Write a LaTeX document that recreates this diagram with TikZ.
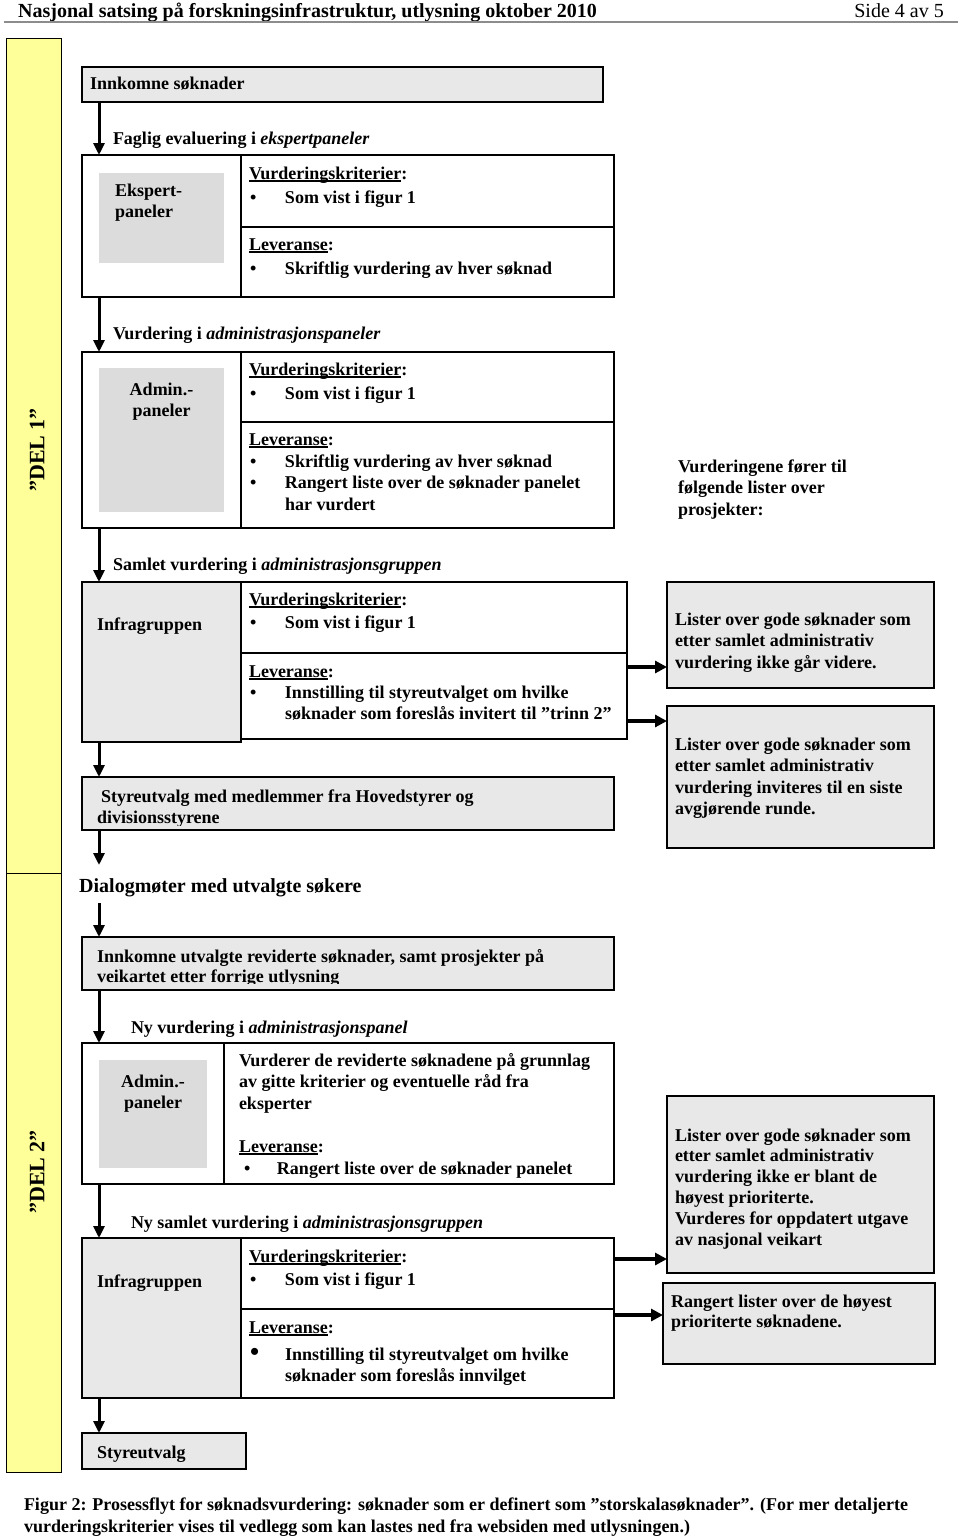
\documentclass[tikz,border=0pt]{standalone}
\usepackage{fontspec}
\setmainfont{Liberation Serif}
\usetikzlibrary{arrows.meta}
\definecolor{bandyellow}{HTML}{FFFF99}
\definecolor{boxgray}{HTML}{E8E8E8}
\definecolor{panelgray}{HTML}{DCDCDC}
\newcommand\bodyf{\fontsize{18}{21.5}\selectfont\bfseries}
\newcommand\linesL[1]{\begin{tabular}[t]{@{}l@{}}#1\end{tabular}}
\newcommand\linesC[1]{\begin{tabular}[t]{@{}c@{}}#1\end{tabular}}
\newcommand\bul{\makebox[35pt][l]{•}}
\newcommand\bigbul{\makebox[35pt][l]{\fontsize{26}{26}\selectfont •}}
\newcommand\ind{\hspace*{35pt}}
\newsavebox\undlbox
\newcommand\undl[1]{\sbox\undlbox{#1}\rlap{\rule[-2.6pt]{\wd\undlbox}{1.3pt}}\usebox\undlbox}
\begin{document}
\begin{tikzpicture}[x=1pt,y=-1pt,
  frame/.style={draw=black, line width=2pt, inner sep=0pt, outer sep=0pt, anchor=north west},
  graybox/.style={frame, fill=boxgray},
  panel/.style={fill=panelgray, inner sep=0pt, outer sep=0pt, anchor=north west},
  bandbox/.style={draw=black, line width=1pt, fill=bandyellow, inner sep=0pt, outer sep=0pt, anchor=north west},
  txt/.style={anchor=base west, inner sep=0pt, outer sep=0pt, font=\bodyf},
  ctxt/.style={anchor=base, inner sep=0pt, outer sep=0pt, font=\bodyf},
  flow/.style={line width=3pt, -{Triangle[length=12pt,width=11pt]}},
  side/.style={line width=4pt, -{Triangle[length=12pt,width=12pt]}},
  dellab/.style={rotate=90, inner sep=0pt, font=\fontsize{22}{26}\selectfont\bfseries}
]
\useasboundingbox (0,0) rectangle (960,1540);
% header
\node[anchor=base west, inner sep=0pt, font=\fontsize{20}{24}\selectfont\bfseries] (title) at (18,17) {Nasjonal satsing på forskningsinfrastruktur, utlysning oktober 2010};
\node[anchor=base east, inner sep=0pt, font=\fontsize{20}{24}\selectfont] (page) at (944,17) {Side 4 av 5};
\draw[black!45, line width=1.5pt] (4,22) -- (958,22);

% yellow band
\node[bandbox, minimum width=55, minimum height=835] (del1) at (6,38) {};
\node[bandbox, minimum width=55, minimum height=599] (del2) at (6,873) {};
\node[dellab] (d1lab) at (37,450) {”DEL 1”};
\node[dellab] (d2lab) at (37,1172) {”DEL 2”};

% Innkomne
\node[graybox, minimum width=521, minimum height=35] (inn) at (82,67) {};
\node[txt] (inntxt) at (90,89) {Innkomne søknader};
\node[txt] (lab1) at (113,144) {Faglig evaluering i \textit{ekspertpaneler}};

% Box 2 expert panels
\node[frame, minimum width=159, minimum height=142] (eksL) at (82,155) {};
\node[frame, minimum width=373, minimum height=72] (eksRa) at (241,155) {};
\node[frame, minimum width=373, minimum height=70] (eksRb) at (241,227) {};
\node[panel, minimum width=125, minimum height=90] (eksP) at (99,173) {};
\node[txt] (eksPt) at (115,196) {\linesL{Ekspert-\\paneler}};
\node[txt] (eksK) at (249,179) {\undl{Vurderingskriterier}:};
\node[txt] (eksKi) at (250,203) {\bul Som vist i figur 1};
\node[txt] (eksLv) at (249,250) {\undl{Leveranse}:};
\node[txt] (eksLi) at (250,274) {\bul Skriftlig vurdering av hver søknad};
\draw[flow] ([xshift=17pt]inn.south west) -- ([xshift=17pt]eksL.north west);

% Box 3 admin panels
\node[txt] (lab2) at (113,339) {Vurdering i \textit{administrasjonspaneler}};
\node[frame, minimum width=159, minimum height=176] (admL) at (82,352) {};
\node[frame, minimum width=373, minimum height=70] (admRa) at (241,352) {};
\node[frame, minimum width=373, minimum height=106] (admRb) at (241,422) {};
\node[panel, minimum width=125, minimum height=144] (admP) at (99,368) {};
\node[ctxt] (admPt) at (161.5,395) {\linesC{Admin.-\\paneler}};
\node[txt] (admK) at (249,375) {\undl{Vurderingskriterier}:};
\node[txt] (admKi) at (250,399) {\bul Som vist i figur 1};
\node[txt] (admLv) at (249,445) {\undl{Leveranse}:};
\node[txt] (admLi) at (250,467) {\linesL{\bul Skriftlig vurdering av hver søknad\\ \bul Rangert liste over de søknader panelet\\ \ind har vurdert}};
\draw[flow] ([xshift=17pt]eksL.south west) -- ([xshift=17pt]admL.north west);

\node[txt] (vurd) at (678,472) {\linesL{Vurderingene fører til\\følgende lister over\\prosjekter:}};

% Box 4 Infragruppen
\node[txt] (lab3) at (113,570) {Samlet vurdering i \textit{administrasjonsgruppen}};
\node[frame, minimum width=386, minimum height=71] (infRa) at (241,582) {};
\node[frame, minimum width=386, minimum height=86] (infRb) at (241,653) {};
\node[graybox, minimum width=159, minimum height=160] (infL) at (82,582) {};
\node[txt] (infT) at (97,630) {Infragruppen};
\node[txt] (infK) at (249,605) {\undl{Vurderingskriterier}:};
\node[txt] (infKi) at (250,628) {\bul Som vist i figur 1};
\node[txt] (infLv) at (249,677) {\undl{Leveranse}:};
\node[txt] (infLi) at (250,698) {\linesL{\bul Innstilling til styreutvalget om hvilke\\ \ind søknader som foreslås invitert til ”trinn 2”}};
\draw[flow] ([xshift=17pt]admL.south west) -- ([xshift=17pt]infL.north west);

% list boxes part 1
\node[graybox, minimum width=267, minimum height=106] (listA) at (667,582) {};
\node[txt] (listAt) at (675,625) {\linesL{Lister over gode søknader som\\etter samlet administrativ\\vurdering ikke går videre.}};
\node[graybox, minimum width=267, minimum height=142] (listB) at (667,706) {};
\node[txt] (listBt) at (675,750) {\linesL{Lister over gode søknader som\\etter samlet administrativ\\vurdering inviteres til en siste\\avgjørende runde.}};
\draw[side] ([yshift=-14pt]infRb.north east) -- ([yshift=21pt]listA.south west);
\draw[side] ([yshift=-68pt]infRb.north east) -- ([yshift=-15pt]listB.north west);

% Styreutvalg 1
\node[graybox, minimum width=532, minimum height=53] (sty) at (82,777) {};
\begin{scope}
\clip (sty.north west) rectangle ([yshift=5pt]sty.south east);
\node[txt] (styt) at (101,802) {Styreutvalg med medlemmer fra Hovedstyrer og};
\node[txt] (styt2) at (97,823) {divisionsstyrene};
\end{scope}
\draw[flow] ([xshift=17pt]infL.south west) -- ([xshift=17pt]sty.north west);

% Dialog
\coordinate (dtop) at (99,865);
\coordinate (dbot) at (99,903);
\draw[flow] ([xshift=17pt]sty.south west) -- (dtop);
\node[anchor=base west, inner sep=0pt, font=\fontsize{20}{24}\selectfont\bfseries] (dialog) at (79,892) {Dialogmøter med utvalgte søkere};

% Innkomne 2
\node[graybox, minimum width=532, minimum height=53] (inn2) at (82,937) {};
\begin{scope}
\clip (inn2.north west) rectangle ([yshift=7pt]inn2.south east);
\node[txt] (inn2t) at (97,962) {Innkomne utvalgte reviderte søknader, samt prosjekter på};
\node[txt] (inn2t2) at (97,982) {veikartet etter forrige utlysning};
\end{scope}
\draw[flow] (dbot) -- ([xshift=17pt]inn2.north west);

% Box 7 admin panel 2
\node[txt] (lab4) at (131,1033) {Ny vurdering i \textit{administrasjonspanel}};
\node[frame, minimum width=142, minimum height=141] (adm2L) at (82,1043) {};
\node[frame, minimum width=390, minimum height=141] (adm2R) at (224,1043) {};
\node[panel, minimum width=108, minimum height=108] (adm2P) at (99,1060) {};
\node[ctxt] (adm2Pt) at (153,1087) {\linesC{Admin.-\\paneler}};
\node[txt] (adm2T) at (239,1066) {\linesL{Vurderer de reviderte søknadene på grunnlag\\av gitte kriterier og eventuelle råd fra\\eksperter}};
\node[txt] (adm2Lv) at (239,1152) {\undl{Leveranse}:};
\node[txt] (adm2Li) at (244,1174) {\makebox[33pt][l]{•}Rangert liste over de søknader panelet};
\draw[flow] ([xshift=17pt]inn2.south west) -- ([xshift=17pt]adm2L.north west);

% Box 8 Infragruppen 2
\node[txt] (lab5) at (131,1228) {Ny samlet vurdering i \textit{administrasjonsgruppen}};
\node[frame, minimum width=373, minimum height=71] (inf2Ra) at (241,1238) {};
\node[frame, minimum width=373, minimum height=89] (inf2Rb) at (241,1309) {};
\node[graybox, minimum width=159, minimum height=160] (inf2L) at (82,1238) {};
\node[txt] (inf2T) at (97,1287) {Infragruppen};
\node[txt] (inf2K) at (249,1262) {\undl{Vurderingskriterier}:};
\node[txt] (inf2Ki) at (250,1285) {\bul Som vist i figur 1};
\node[txt] (inf2Lv) at (249,1333) {\undl{Leveranse}:};
\node[txt] (inf2Li) at (250,1360) {\linesL{\bigbul Innstilling til styreutvalget om hvilke\\ \ind søknader som foreslås innvilget}};
\draw[flow] ([xshift=17pt]adm2L.south west) -- ([xshift=17pt]inf2L.north west);

% list boxes part 2
\node[graybox, minimum width=267, minimum height=177] (listC) at (667,1096) {};
\node[txt, font=\fontsize{18}{20.8}\selectfont\bfseries] (listCt) at (675,1141) {\linesL{Lister over gode søknader som\\etter samlet administrativ\\vurdering ikke er blant de\\høyest prioriterte.\\Vurderes for oppdatert utgave\\av nasjonal veikart}};
\node[graybox, minimum width=272, minimum height=81] (listD) at (663,1283) {};
\node[txt, font=\fontsize{18}{20.5}\selectfont\bfseries] (listDt) at (671,1307) {\linesL{Rangert lister over de høyest\\prioriterte søknadene.}};
\draw[side] ([yshift=-21pt]inf2Ra.north east) -- ([yshift=14pt]listC.south west);
\draw[side] ([yshift=-6pt]inf2Rb.north east) -- ([yshift=-32pt]listD.north west);

% Styreutvalg 2
\node[graybox, minimum width=164, minimum height=36] (sty2) at (82,1433) {};
\begin{scope}
\clip (sty2.north west) rectangle ([yshift=7pt]sty2.south east);
\node[txt] (sty2t) at (97,1458) {Styreutvalg};
\end{scope}
\draw[flow] ([xshift=17pt]inf2L.south west) -- ([xshift=17pt]sty2.north west);

% caption
\node[txt, font=\fontsize{18}{22}\selectfont\bfseries] (cap) at (24,1510) {\linesL{Figur 2: Prosessflyt for søknadsvurdering: søknader som er definert som ”storskalasøknader”. (For mer detaljerte\\vurderingskriterier vises til vedlegg som kan lastes ned fra websiden med utlysningen.)}};
\end{tikzpicture}
\end{document}
